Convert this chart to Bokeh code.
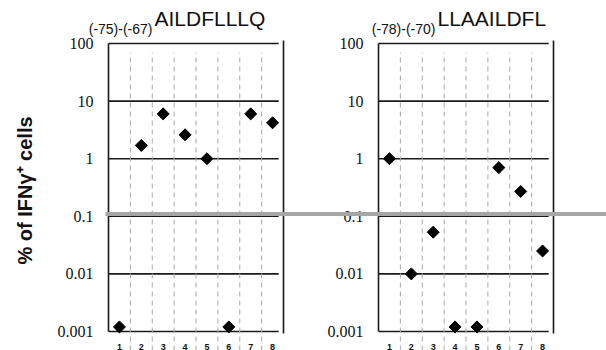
import math
from bokeh.plotting import figure
from bokeh.models import Range1d
from bokeh.embed import file_html
from bokeh.resources import INLINE
from bokeh.core.properties import value

# ---------------- data ----------------
CATEGORIES = ["1", "2", "3", "4", "5", "6", "7", "8"]
LEFT_VALUES = [0.0012, 1.7, 6.0, 2.6, 1.0, 0.0012, 6.0, 4.2]
RIGHT_VALUES = [1.0, 0.01, 0.053, 0.0012, 0.0012, 0.70, 0.27, 0.025]
Y_TICKS = [0.001, 0.01, 0.1, 1, 10, 100]
Y_TICK_LABELS = ["0.001", "0.01", "0.1", "1", "10", "100"]
LEFT_TITLE_PREFIX = "(-75)-(-67)"
LEFT_TITLE = "AILDFLLLQ"
RIGHT_TITLE_PREFIX = "(-78)-(-70)"
RIGHT_TITLE = "LLAAILDFL"
Y_LABEL = "% of IFNγ⁺ cells"
GRAY_LINE_LEVEL = 0.11

# ---------------- layout ----------------
W, H = 606, 350
PANEL_LEFT_PX = 108          # canvas x of left panel edge
RIGHT_PANEL_PX = 378         # canvas x of right panel edge
PX = 21.875                  # pixels per category
TOP_LINE_PX, BOTTOM_LINE_PX = 43, 331   # canvas y of 100 and 0.001 lines
N = len(CATEGORIES)
OFF = (RIGHT_PANEL_PX - PANEL_LEFT_PX) / PX
X0 = 0.5 - PANEL_LEFT_PX / PX
X1 = 0.5 + (W - PANEL_LEFT_PX) / PX
LT, LB = math.log10(Y_TICKS[-1]), math.log10(Y_TICKS[0])
D = (BOTTOM_LINE_PX - TOP_LINE_PX) / (LT - LB)   # pixels per decade


def ylog_at(cy):
    """data y at canvas pixel row cy"""
    return 10 ** (LT - (cy - TOP_LINE_PX) / D)


def xd_at(cx):
    return 0.5 + (cx - PANEL_LEFT_PX) / PX


SANS = "Liberation Sans"
SERIF = "Liberation Serif"
LINE = "#1a1a1a"
TXT = "#111111"

p = figure(width=W, height=H, y_axis_type="log",
           x_axis_location=None, y_axis_location=None,
           x_range=Range1d(X0, X1), y_range=Range1d(ylog_at(H), ylog_at(0)),
           output_backend="svg", toolbar_location=None,
           min_border_left=0, min_border_right=0, min_border_top=0, min_border_bottom=0)
p.outline_line_color = None
p.grid.visible = False
p.background_fill_color = "white"
p.border_fill_color = "white"

nt = len(Y_TICKS)
for off, vals in [(0.0, LEFT_VALUES), (OFF, RIGHT_VALUES)]:
    # horizontal decade lines
    p.segment(x0=[0.5 + off] * nt, x1=[N + 0.28 + off] * nt,
              y0=Y_TICKS, y1=Y_TICKS, line_color=LINE, line_width=1.6)
    # dashed category separators
    seps = [i + 0.5 + off for i in range(1, N)]
    p.segment(x0=seps, x1=seps, y0=[ylog_at(H)] * len(seps), y1=[ylog_at(TOP_LINE_PX + 9)] * len(seps),
              line_color="#a8a8a8", line_width=1, line_dash="5 4")
    # left and right frame lines
    p.segment(x0=[0.5 + off], x1=[0.5 + off], y0=[Y_TICKS[0]], y1=[Y_TICKS[-1]],
              line_color=LINE, line_width=1.6)
    p.segment(x0=[N + 0.5 + off], x1=[N + 0.5 + off],
              y0=[ylog_at(BOTTOM_LINE_PX + 2)], y1=[ylog_at(TOP_LINE_PX - 3)],
              line_color=LINE, line_width=1.6)
    # tick labels
    p.text(x=[0.5 + off] * nt, y=Y_TICKS, text=Y_TICK_LABELS, x_offset=-15,
           text_align="right", text_baseline="middle", text_font=value(SERIF),
           text_font_size="16px", text_color=TXT)
    # category labels
    xs = [i + 1 + off for i in range(N)]
    p.text(x=xs, y=[ylog_at(BOTTOM_LINE_PX + 15)] * N, text=CATEGORIES,
           text_align="center", text_baseline="middle", text_font=value(SANS),
           text_font_style="bold", text_font_size="9px", text_color=TXT)
    # points
    p.scatter(x=xs, y=vals, marker="square", angle=math.pi / 4, size=8.5,
              fill_color="black", line_color="black")

# gray line across the figure
p.segment(x0=[xd_at(PANEL_LEFT_PX - 3)], x1=[X1], y0=[GRAY_LINE_LEVEL], y1=[GRAY_LINE_LEVEL],
          line_color="#a6a6a6", line_width=4)

# titles
for anchor, prefix, title in [(xd_at(153), LEFT_TITLE_PREFIX, LEFT_TITLE),
                              (xd_at(436), RIGHT_TITLE_PREFIX, RIGHT_TITLE)]:
    p.text(x=[anchor], y=[ylog_at(28)], text=[prefix], x_offset=-1,
           text_align="right", text_baseline="middle", text_font=value(SANS),
           text_font_size="14px", text_color=TXT)
    p.text(x=[anchor], y=[ylog_at(18)], text=[title], x_offset=1,
           text_align="left", text_baseline="middle", text_font=value(SANS),
           text_font_size="21px", text_color=TXT)

# y axis title
p.text(x=[xd_at(24)], y=[ylog_at(190)], text=[Y_LABEL], angle=math.pi / 2,
       text_align="center", text_baseline="middle", text_font=value(SANS),
       text_font_style="bold", text_font_size="20px", text_color=TXT)

open("out.html", "w").write(file_html(p, INLINE))
